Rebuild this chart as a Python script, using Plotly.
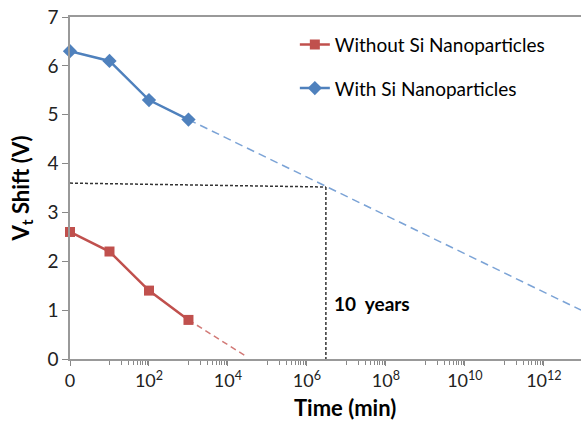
import plotly.graph_objects as go
import numpy as np

# Data
time_min = [1, 10, 100, 1000]
with_si = [6.3, 6.1, 5.3, 4.9]
without_si = [2.6, 2.2, 1.4, 0.8]

with_ext_x = [1000, 10**12.94]
with_ext_y = [4.9, 1.0]
without_ext_x = [1000, 10**4.43]
without_ext_y = [0.8, 0.07]

ten_years_x = 10**6.48
ten_years_y = [3.6, 3.52]

xtick_vals = [10**k for k in range(0, 13, 2)]
xtick_text = ["0" if k == 0 else "10<sup>%d</sup>" % k for k in range(0, 13, 2)]
minor_vals = [m * 10**k for k in range(1, 13, 2) for m in range(1, 10)]

RED = "#C0504D"
BLUE = "#4F81BD"
FONT = "Lato, 'Open Sans', sans-serif"

fig = go.Figure()

# reference lines
fig.add_trace(go.Scatter(x=[1, ten_years_x], y=ten_years_y, mode="lines",
                         line=dict(color="#333333", width=1.5, dash="3px,2px"),
                         showlegend=False, hoverinfo="skip"))
fig.add_trace(go.Scatter(x=[ten_years_x, ten_years_x], y=[ten_years_y[1], 0], mode="lines",
                         line=dict(color="#333333", width=1.5, dash="3px,2px"),
                         showlegend=False, hoverinfo="skip"))

# extrapolations
fig.add_trace(go.Scatter(x=with_ext_x, y=with_ext_y, mode="lines",
                         line=dict(color="#7BA3D6", width=1.5, dash="8px,5px"),
                         showlegend=False, hoverinfo="skip"))
fig.add_trace(go.Scatter(x=without_ext_x, y=without_ext_y, mode="lines",
                         line=dict(color="#D27A77", width=1.5, dash="6px,4px"),
                         showlegend=False, hoverinfo="skip"))

# main series
fig.add_trace(go.Scatter(x=time_min, y=without_si, mode="lines+markers",
                         name="Without Si Nanoparticles", legendgroup="a",
                         line=dict(color=RED, width=2.5),
                         marker=dict(symbol="square", size=10, color=RED),
                         cliponaxis=False))
fig.add_trace(go.Scatter(x=time_min, y=with_si, mode="lines+markers",
                         name="With Si Nanoparticles", legendgroup="b",
                         line=dict(color=BLUE, width=2.5),
                         marker=dict(symbol="diamond", size=11, color=BLUE),
                         cliponaxis=False))

fig.add_annotation(x=np.log10(ten_years_x), y=1.14, xref="x", yref="y",
                   text="<b>10  years</b>", showarrow=False, xanchor="left", xshift=6,
                   font=dict(size=19, color="black", family=FONT))

fig.add_annotation(x=(345 - 70) / 511, y=-(407 - 359) / 342, xref="paper", yref="paper",
                   text="<b>Time (min)</b>", showarrow=False,
                   xanchor="center", yanchor="middle",
                   font=dict(size=22, color="black", family=FONT))

fig.update_layout(
    width=581, height=432,
    margin=dict(l=70, r=0, t=17, b=73),
    paper_bgcolor="white", plot_bgcolor="white",
    font=dict(family=FONT, size=18, color="#222222"),
    legend=dict(x=0.44, y=0.975, xanchor="left", yanchor="top",
                bgcolor="rgba(0,0,0,0)", tracegroupgap=16,
                font=dict(size=19, color="black"), itemwidth=30),
)

fig.update_xaxes(
    type="log", range=[0, 12.94],
    tickvals=xtick_vals, ticktext=xtick_text,
    ticks="outside", ticklen=5, tickcolor="#888888",
    showline=True, linecolor="#999999", linewidth=1.5, mirror=True,
    showgrid=False, zeroline=False,
    minor=dict(tickvals=minor_vals, ticks="outside", ticklen=4, tickcolor="#888888", showgrid=False),
    tickfont=dict(size=18),
)
fig.update_yaxes(
    range=[0, 7], dtick=1,
    ticks="outside", ticklen=6, tickcolor="#888888",
    showline=True, linecolor="#999999", linewidth=1.5,
    showgrid=False, zeroline=False,
    title=dict(text="<b>V<sub>t</sub> Shift (V)</b>", font=dict(size=22, color="black"), standoff=12),
    tickfont=dict(size=19),
)

fig.write_html("out.html")
